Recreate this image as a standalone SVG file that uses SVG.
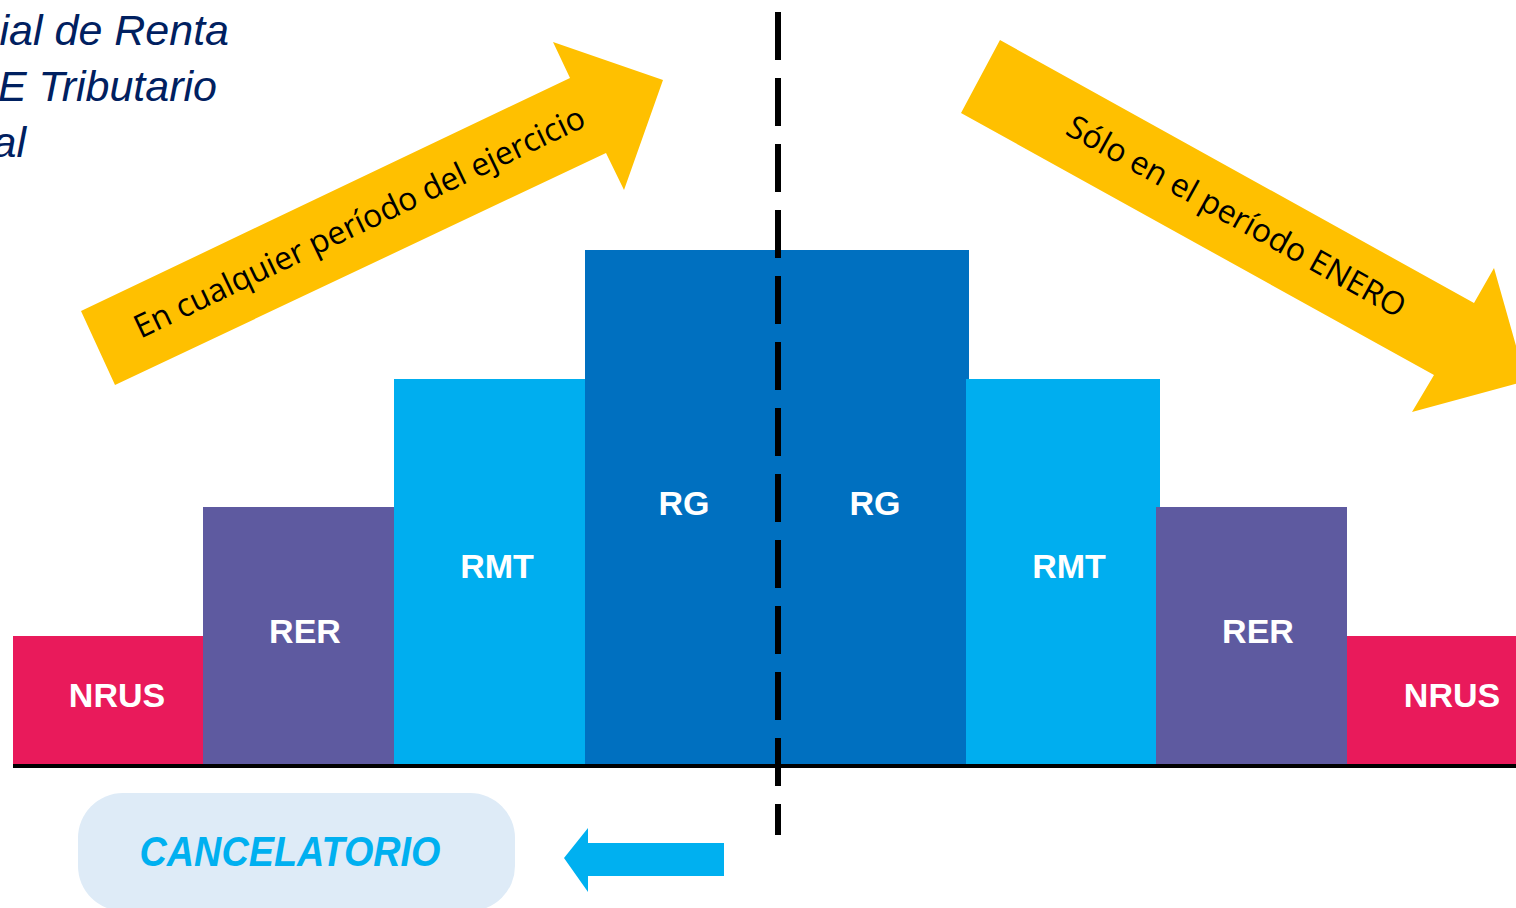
<svg xmlns="http://www.w3.org/2000/svg" width="1516" height="908" viewBox="0 0 1516 908">
<style>
.title{font-family:"Liberation Sans",Arial,sans-serif;font-style:italic;font-size:43px;fill:#002060}
.lbl{font-family:"Liberation Sans",Arial,sans-serif;font-weight:bold;font-size:34px;fill:#fff;text-anchor:middle}
.arrtxt{font-family:"Open Sans","Liberation Sans",sans-serif;font-size:32px;fill:#000;text-anchor:middle}
.nrus{fill:#E91A5B}.rer{fill:#5E5AA0}.rmt{fill:#00AEEF}.rg{fill:#0070C0}
.yel{fill:#FFC000}
</style>
<rect width="1516" height="908" fill="#fff"/>
<g id="title">
<text class="title" x="229" y="45" text-anchor="end">ial de Renta</text>
<text class="title" x="217" y="101" text-anchor="end">E Tributario</text>
<text class="title" x="26" y="157" text-anchor="end">al</text>
</g>
<g id="arrow-left">
<polygon class="yel" points="81,311 570,78 553,42 663,80 624,190 606,153 115,385"/>
<text class="arrtxt" transform="translate(364,232) rotate(-25.5)">En cualquier período del ejercicio</text>
</g>
<g id="arrow-right">
<polygon class="yel" points="1000,40 1474,303 1494,268 1526,381 1412,412 1434,375 961,113"/>
<text class="arrtxt" transform="translate(1231,226) rotate(29)">Sólo en el período ENERO</text>
</g>
<g id="rg-left"><rect class="rg" x="585" y="250" width="194" height="514"/><text class="lbl" x="684" y="515">RG</text></g>
<g id="rg-right"><rect class="rg" x="778" y="250" width="191" height="514"/><text class="lbl" x="875" y="515">RG</text></g>
<g id="rmt-left"><rect class="rmt" x="394" y="379" width="191" height="385"/><text class="lbl" x="497" y="578">RMT</text></g>
<g id="rmt-right"><rect class="rmt" x="966" y="379" width="194" height="385"/><text class="lbl" x="1069" y="578">RMT</text></g>
<g id="rer-left"><rect class="rer" x="203" y="507" width="191" height="257"/><text class="lbl" x="305" y="643">RER</text></g>
<g id="rer-right"><rect class="rer" x="1156" y="507" width="191" height="257"/><text class="lbl" x="1258" y="643">RER</text></g>
<g id="nrus-left"><rect class="nrus" x="13" y="636" width="190" height="128"/><text class="lbl" x="117" y="707">NRUS</text></g>
<g id="nrus-right"><rect class="nrus" x="1347" y="636" width="169" height="128"/><text class="lbl" x="1452" y="707">NRUS</text></g>
<g id="connectors">
<line x1="13" y1="766" x2="1516" y2="766" stroke="#000" stroke-width="4"/>
<line x1="778" y1="12" x2="778" y2="835" stroke="#000" stroke-width="6" stroke-dasharray="48 18"/>
<polygon fill="#00B0F0" points="564,858 588,828 588,843 724,843 724,876 588,876 588,892"/>
</g>
<g id="cancelatorio">
<rect x="78" y="793" width="437" height="118" rx="45" fill="#DEEBF7"/>
<text x="290" y="866" font-family="Liberation Sans,Arial,sans-serif" font-weight="bold" font-style="italic" font-size="43" fill="#00B0F0" text-anchor="middle" textLength="301" lengthAdjust="spacingAndGlyphs">CANCELATORIO</text>
</g>
</svg>
